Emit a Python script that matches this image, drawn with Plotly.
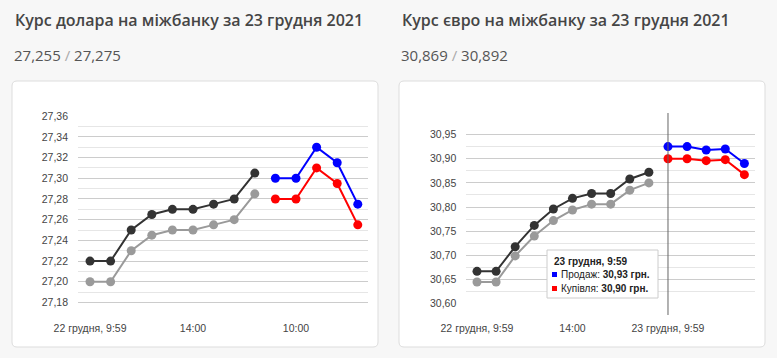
import plotly.graph_objects as go

W, H = 777, 358

# ---------------- data ----------------
usd_prev_sell = [27.22, 27.22, 27.25, 27.265, 27.27, 27.27, 27.275, 27.28, 27.305]
usd_prev_buy = [27.20, 27.20, 27.23, 27.245, 27.25, 27.25, 27.255, 27.26, 27.285]
usd_sell = [27.30, 27.30, 27.33, 27.315, 27.275]
usd_buy = [27.28, 27.28, 27.31, 27.295, 27.255]
usd_xticks = [0, 5, 10]
usd_xlabels = ["22 грудня, 9:59", "14:00", "10:00"]

eur_prev_sell = [30.667, 30.667, 30.718, 30.762, 30.796, 30.818, 30.828, 30.828, 30.858, 30.872]
eur_prev_buy = [30.645, 30.645, 30.699, 30.740, 30.772, 30.794, 30.806, 30.806, 30.835, 30.850]
eur_sell = [30.925, 30.925, 30.918, 30.920, 30.890]
eur_buy = [30.900, 30.900, 30.896, 30.898, 30.867]
eur_xticks = [0, 5, 10]
eur_xlabels = ["22 грудня, 9:59", "14:00", "23 грудня, 9:59"]

titles = ["Курс долара на міжбанку за 23 грудня 2021", "Курс євро на міжбанку за 23 грудня 2021"]
rates = [("27,255", "27,275"), ("30,869", "30,892")]
tooltip_title = "23 грудня, 9:59"
tooltip_rows = [("Продаж", "30,93"), ("Купівля", "30,90")]

# ---------------- helpers ----------------
def px(x):
    return x / W

def py(y):
    return (H - y) / H

def rrect(x0, y0, x1, y1, r):
    X = lambda v: px(v)
    Y = lambda v: py(v)
    return (f"M {X(x0+r)} {Y(y0)} L {X(x1-r)} {Y(y0)} Q {X(x1)} {Y(y0)} {X(x1)} {Y(y0+r)} "
            f"L {X(x1)} {Y(y1-r)} Q {X(x1)} {Y(y1)} {X(x1-r)} {Y(y1)} "
            f"L {X(x0+r)} {Y(y1)} Q {X(x0)} {Y(y1)} {X(x0)} {Y(y1-r)} "
            f"L {X(x0)} {Y(y0+r)} Q {X(x0)} {Y(y0)} {X(x0+r)} {Y(y0)} Z")

DARK = "#333333"
GRAY = "#9a9a9a"
BLUE = "#0000ff"
RED = "#ff0000"

fig = go.Figure()

def add_series(xa, ya, prev_sell, prev_buy, sell, buy):
    n = len(prev_sell)
    xs_prev = list(range(n))
    xs_cur = list(range(n, n + len(sell)))
    for xs, ys, c in [(xs_prev, prev_buy, GRAY), (xs_prev, prev_sell, DARK),
                      (xs_cur, buy, RED), (xs_cur, sell, BLUE)]:
        fig.add_trace(go.Scatter(x=xs, y=ys, mode="lines+markers", xaxis=xa, yaxis=ya,
                                 line=dict(color=c, width=2),
                                 marker=dict(color=c, size=9),
                                 cliponaxis=False,
                                 showlegend=False, hoverinfo="skip"))

add_series("x", "y", usd_prev_sell, usd_prev_buy, usd_sell, usd_buy)
add_series("x2", "y2", eur_prev_sell, eur_prev_buy, eur_sell, eur_buy)

tickfont = dict(family="Liberation Sans, Arial", size=10.5, color="#444444")
grid_major = "#cccccc"
grid_minor = "#e6e6e6"

fig.update_layout(
    width=W, height=H,
    margin=dict(l=0, r=0, t=0, b=0, autoexpand=False),
    paper_bgcolor="#f7f7f7",
    plot_bgcolor="rgba(0,0,0,0)",
    separators=",.",
    hovermode=False,
    xaxis=dict(domain=[px(78), px(368.3)], range=[-0.583, 13.51], tickvals=usd_xticks,
               ticktext=usd_xlabels, showgrid=False, zeroline=False, showline=False,
               ticks="", tickfont=tickfont, ticklabelstandoff=7, fixedrange=True, automargin=False),
    yaxis=dict(domain=[py(313), py(116)], range=[27.1698, 27.3602], tick0=27.18, dtick=0.02,
               tickformat=".2f", showgrid=True, gridcolor=grid_major, gridwidth=1,
               zeroline=False, showline=False, ticks="", tickfont=tickfont,
               ticklabelstandoff=9, automargin=False, fixedrange=True,
               minor=dict(tick0=27.17, dtick=0.01, showgrid=True, gridcolor=grid_minor, gridwidth=1)),
    xaxis2=dict(domain=[px(466.3), px(754.7)], range=[-0.56, 14.54], tickvals=eur_xticks,
                ticktext=eur_xlabels, showgrid=False, zeroline=False, showline=False,
                ticks="", tickfont=tickfont, ticklabelstandoff=16, anchor="y2", fixedrange=True,
                automargin=False),
    yaxis2=dict(domain=[py(304), py(122.2)], range=[30.5995, 30.9755], tick0=30.60, dtick=0.05,
                tickformat=".2f", showgrid=True, gridcolor=grid_major, gridwidth=1,
                zeroline=False, showline=False, ticks="", tickfont=tickfont,
                ticklabelstandoff=9, anchor="x2", automargin=False, fixedrange=True,
                minor=dict(tick0=30.575, dtick=0.025, showgrid=True, gridcolor=grid_minor, gridwidth=1)),
)

shapes = []
# cards
for x0, x1 in [(12, 378), (399, 765)]:
    shapes.append(dict(type="path", path=rrect(x0, 81, x1, 347, 5), xref="paper", yref="paper",
                       fillcolor="#ffffff", line=dict(color="#dddddd", width=1), layer="below"))
# vertical crosshair in euro chart
shapes.append(dict(type="line", xref="x2", yref="paper", x0=10, x1=10, y0=py(315), y1=py(113),
                   line=dict(color="#666666", width=1)))
# tooltip box
shapes.append(dict(type="rect", xref="paper", yref="paper", x0=px(547), x1=px(658), y0=py(298), y1=py(250),
                   fillcolor="#ffffff", line=dict(color="#cccccc", width=1), layer="above"))
# tooltip colour squares
for (yc, c) in [(274.5, BLUE), (288.5, RED)]:
    shapes.append(dict(type="rect", xref="paper", yref="paper", x0=px(552), x1=px(557),
                       y0=py(yc + 2.5), y1=py(yc - 2.5), fillcolor=c, line=dict(width=0), layer="above"))
fig.update_layout(shapes=shapes)

ann = []
for i, xl in enumerate([13, 400]):
    ann.append(dict(text=titles[i], x=px(xl), y=py(20), xref="paper", yref="paper",
                    xanchor="left", yanchor="middle", showarrow=False,
                    font=dict(family="Open Sans", size=16, weight=600, color="#454545")))
    a, b = rates[i]
    ann.append(dict(text=f"{a} <span style='color:#aaaaaa'>/</span> {b}", x=px(xl - 1), y=py(55),
                    xref="paper", yref="paper", xanchor="left", yanchor="middle", showarrow=False,
                    font=dict(family="Open Sans", size=15, color="#555555")))

ttfont = dict(family="Liberation Sans, Arial", size=10, color="#222222")
ann.append(dict(text=f"<b>{tooltip_title}</b>", x=px(552), y=py(261), xref="paper", yref="paper",
                xanchor="left", yanchor="middle", showarrow=False, font=ttfont))
for (label, val), yy in zip(tooltip_rows, [274.5, 288.5]):
    ann.append(dict(text=f"{label}: <b>{val} грн.</b>", x=px(559), y=py(yy), xref="paper", yref="paper",
                    xanchor="left", yanchor="middle", showarrow=False, font=ttfont))
fig.update_layout(annotations=ann)

fig.write_html("out.html", config={"displayModeBar": False, "staticPlot": True},
               post_script="document.body.style.margin='0';")
